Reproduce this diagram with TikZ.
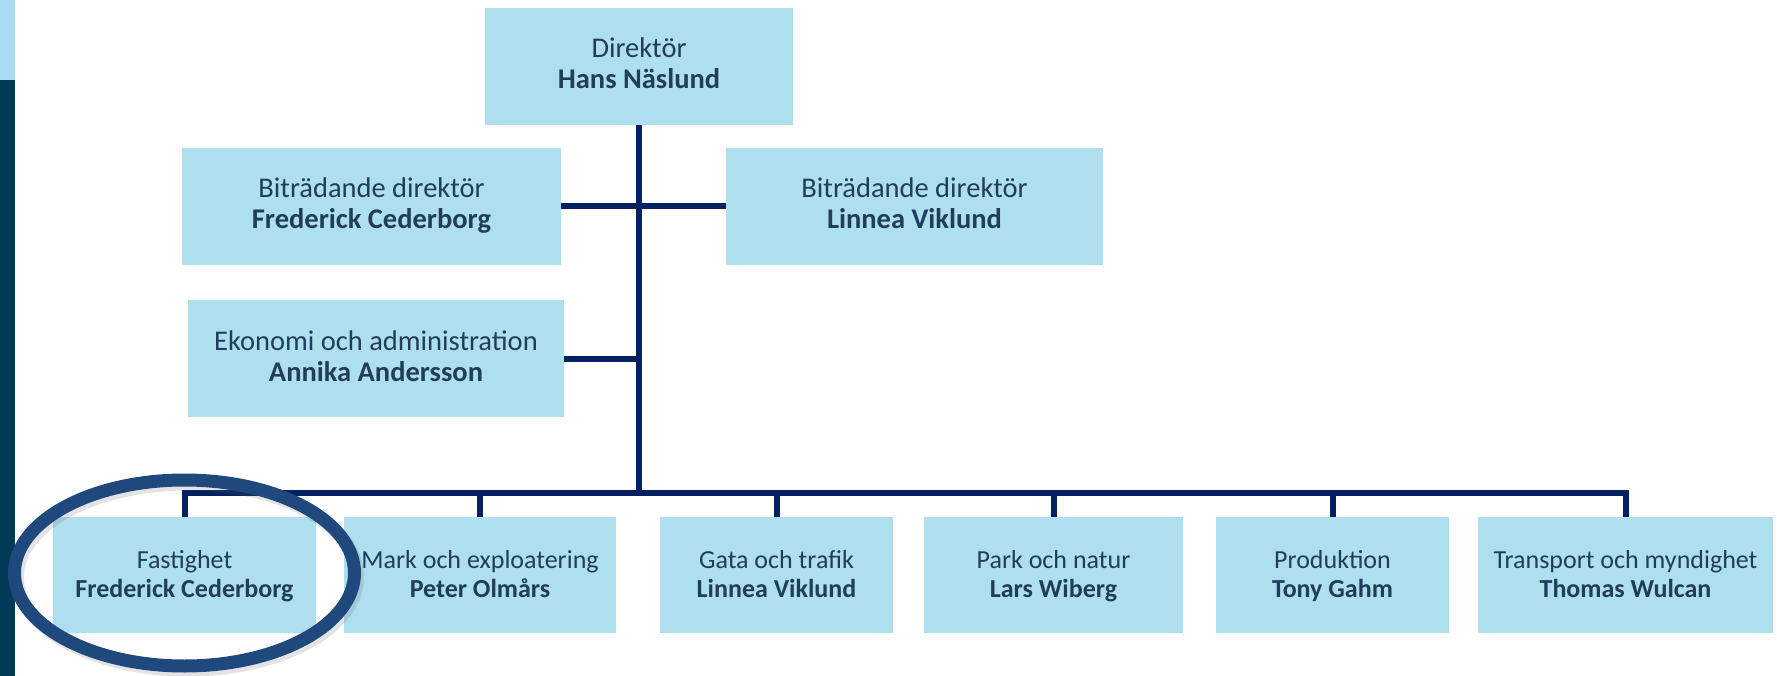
\documentclass[tikz,border=0pt]{standalone}
\usepackage{fontspec}
\setmainfont{Carlito}
\definecolor{boxfill}{RGB}{173,223,238}
\definecolor{boxtext}{RGB}{34,60,92}
\definecolor{linenavy}{RGB}{4,32,96}
\definecolor{ringblue}{RGB}{31,73,125}
\definecolor{barlight}{RGB}{167,221,245}
\definecolor{bardark}{RGB}{0,58,87}
\newcommand\ustrut{\rule[-7pt]{0pt}{28pt}}
\newcommand\lstrut{\rule[-6pt]{0pt}{27pt}}
\begin{document}
\begin{tikzpicture}[x=1pt,y=-1pt,
  box/.style={rectangle, fill=boxfill, text=boxtext, inner sep=0pt, align=center, anchor=center},
  upbox/.style={box, minimum height=117pt, font=\fontsize{28.5}{31}\selectfont},
  lowbox/.style={box, minimum height=116pt, font=\fontsize{26}{29}\selectfont},
  conn/.style={draw=linenavy, line width=6pt},
  ring/.style={draw=ringblue, line width=13pt}]
\useasboundingbox (0,0) rectangle (1777,676);
% left bar
\fill[barlight] (0,0) rectangle (15,80);
\fill[bardark] (0,80) rectangle (15,676);

% boxes
\node[upbox, minimum width=308pt] (dir) at (639,66.5) {\ustrut Direktör\\\textbf{Hans Näslund}\ustrut};
\node[upbox, minimum width=379pt] (bl) at (371.5,206.5) {\ustrut Biträdande direktör\\\textbf{Frederick Cederborg}\ustrut};
\node[upbox, minimum width=377pt] (br) at (914.5,206.5) {\ustrut Biträdande direktör\\\textbf{Linnea Viklund}\ustrut};
\node[upbox, minimum width=376pt] (eko) at (376,358.5) {\ustrut Ekonomi och administration\\\textbf{Annika Andersson}\ustrut};

\node[lowbox, minimum width=263pt] (fast) at (184.5,575) {\lstrut Fastighet\\\textbf{Frederick Cederborg}\lstrut};
\node[lowbox, minimum width=272pt] (mark) at (480,575) {\lstrut Mark och exploatering\\\textbf{Peter Olmårs}\lstrut};
\node[lowbox, minimum width=233pt] (gata) at (776.5,575) {\lstrut Gata och trafik\\\textbf{Linnea Viklund}\lstrut};
\node[lowbox, minimum width=259pt] (park) at (1053.5,575) {\lstrut Park och natur\\\textbf{Lars Wiberg}\lstrut};
\node[lowbox, minimum width=233pt] (prod) at (1332.5,575) {\lstrut Produktion\\\textbf{Tony Gahm}\lstrut};
\node[lowbox, minimum width=295pt] (trans) at (1625.5,575) {\lstrut Transport och myndighet\\\textbf{Thomas Wulcan}\lstrut};

% connectors
\coordinate (bus) at (639,493);
\draw[conn] (dir.south) -- (bus);
\draw[conn] (bl.east) -- (br.west);
\draw[conn] (eko.east) -- (eko.east -| dir.south);
\draw[conn, line join=miter] (fast.north) -- (fast.north |- bus) -- (trans.north |- bus) -- (trans.north);
\draw[conn] (mark.north) -- (mark.north |- bus);
\draw[conn] (gata.north) -- (gata.north |- bus);
\draw[conn] (park.north) -- (park.north |- bus);
\draw[conn] (prod.north) -- (prod.north |- bus);

% highlight ring
\draw[black!60, line width=13pt, opacity=0.18] (187.5,577) ellipse [x radius=170, y radius=93];
\draw[ring] (184.5,573) ellipse [x radius=170, y radius=93];
\end{tikzpicture}
\end{document}
